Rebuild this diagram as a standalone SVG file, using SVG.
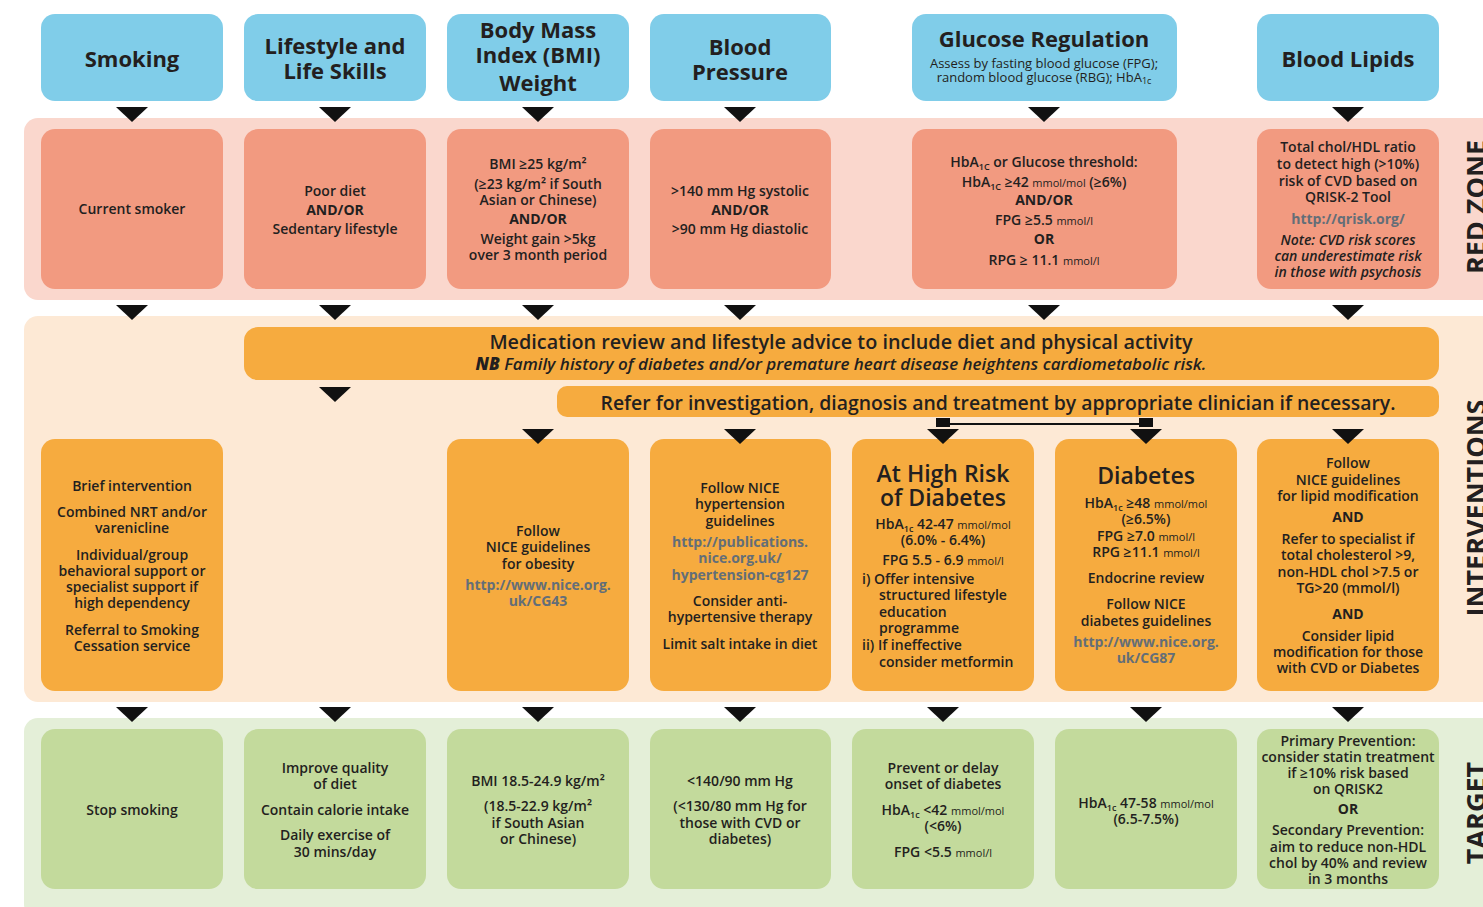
<svg xmlns="http://www.w3.org/2000/svg" width="1483" height="907" viewBox="0 0 1483 907">
<style>
text{font-family:"Open Sans","Noto Sans","Liberation Sans",sans-serif;fill:#231f20;text-anchor:middle}
.hd{font-size:22px;font-weight:700}
.h2{font-size:23px;font-weight:600}
.t{font-size:14px;font-weight:600}
.b{font-weight:700}
.u{fill:#636e78;font-weight:700}
.sm{font-size:11px;font-weight:400}
.sub{font-size:9px}
.i{font-style:italic}
.l{text-anchor:start}
.zone{font-size:27px;font-weight:700}
.blue{fill:#80cde9}
.red{fill:#f29a80}
.org{fill:#f6ab3f}
.grn{fill:#c3da9c}
.arr{fill:#111}
</style>
<rect width="1483" height="907" fill="#fff"/>
<!-- bands -->
<g id="bands">
<rect x="24" y="118" width="1480" height="182" rx="14" fill="#fad7cd"/>
<rect x="24" y="316" width="1480" height="386" rx="14" fill="#fde9d5"/>
<rect x="24" y="718" width="1480" height="200" rx="14" fill="#e4efd8"/>
<text class="zone" transform="translate(1486,207) rotate(-90)">RED ZONE</text>
<text class="zone" transform="translate(1486,508) rotate(-90)">INTERVENTIONS</text>
<text class="zone" transform="translate(1486,813) rotate(-90)">TARGET</text>
</g>
<!-- headers -->
<g id="h-smoking"><rect class="blue" x="41" y="14" width="182" height="87" rx="14"/><text class="hd" x="132" y="67">Smoking</text></g>
<g id="h-lifestyle"><rect class="blue" x="244" y="14" width="182" height="87" rx="14"/><text class="hd" x="335" y="54">Lifestyle and</text><text class="hd" x="335" y="79">Life Skills</text></g>
<g id="h-bmi"><rect class="blue" x="447" y="14" width="182" height="87" rx="14"/><text class="hd" x="538" y="38">Body Mass</text><text class="hd" x="538" y="63">Index (BMI)</text><text class="hd" x="538" y="91">Weight</text></g>
<g id="h-bp"><rect class="blue" x="650" y="14" width="181" height="87" rx="14"/><text class="hd" x="740" y="55">Blood</text><text class="hd" x="740" y="80">Pressure</text></g>
<g id="h-glucose"><rect class="blue" x="912" y="14" width="265" height="87" rx="14"/><text class="hd" x="1044" y="47">Glucose Regulation</text><text x="1044" y="68" style="font-size:13px">Assess by fasting blood glucose (FPG);</text><text x="1044" y="82" style="font-size:13px">random blood glucose (RBG); HbA<tspan class="sub" dy="2">1c</tspan></text></g>
<g id="h-lipids"><rect class="blue" x="1257" y="14" width="182" height="87" rx="14"/><text class="hd" x="1348" y="67">Blood Lipids</text></g>
<!-- red zone -->
<g id="r-smoking"><rect class="red" x="41" y="129" width="182" height="160" rx="14"/><text class="t" x="132" y="214">Current smoker</text></g>
<g id="r-lifestyle"><rect class="red" x="244" y="129" width="182" height="160" rx="14"/><text class="t" x="335" y="196">Poor diet</text><text class="t b" x="335" y="215">AND/OR</text><text class="t" x="335" y="234">Sedentary lifestyle</text></g>
<g id="r-bmi"><rect class="red" x="447" y="129" width="182" height="160" rx="14"/>
<text class="t" x="538" y="169">BMI ≥25 kg/m²</text><text class="t" x="538" y="189">(≥23 kg/m² if South</text><text class="t" x="538" y="205">Asian or Chinese)</text><text class="t b" x="538" y="224">AND/OR</text><text class="t" x="538" y="244">Weight gain &gt;5kg</text><text class="t" x="538" y="260">over 3 month period</text></g>
<g id="r-bp"><rect class="red" x="650" y="129" width="181" height="160" rx="14"/><text class="t" x="740" y="196">&gt;140 mm Hg systolic</text><text class="t b" x="740" y="215">AND/OR</text><text class="t" x="740" y="234">&gt;90 mm Hg diastolic</text></g>
<g id="r-glucose"><rect class="red" x="912" y="129" width="265" height="160" rx="14"/>
<text class="t" x="1044" y="167">HbA<tspan class="sub" dy="3">1C</tspan><tspan dy="-3"> or Glucose threshold:</tspan></text>
<text class="t" x="1044" y="187">HbA<tspan class="sub" dy="3">1C</tspan><tspan dy="-3"> ≥42 </tspan><tspan class="sm">mmol/mol</tspan> (≥6%)</text>
<text class="t b" x="1044" y="205">AND/OR</text>
<text class="t" x="1044" y="225">FPG ≥5.5 <tspan class="sm">mmol/l</tspan></text>
<text class="t b" x="1044" y="244">OR</text>
<text class="t" x="1044" y="265">RPG ≥ 11.1 <tspan class="sm">mmol/l</tspan></text></g>
<g id="r-lipids"><rect class="red" x="1257" y="129" width="182" height="160" rx="14"/>
<text class="t" x="1348" y="152">Total chol/HDL ratio</text><text class="t" x="1348" y="169">to detect high (&gt;10%)</text><text class="t" x="1348" y="186">risk of CVD based on</text><text class="t" x="1348" y="202">QRISK-2 Tool</text><text class="t u" x="1348" y="224">http://qrisk.org/</text><text class="t i" x="1348" y="245">Note: CVD risk scores</text><text class="t i" x="1348" y="261">can underestimate risk</text><text class="t i" x="1348" y="277">in those with psychosis</text></g>
<!-- bars -->
<g id="medication"><rect class="org" x="244" y="327" width="1195" height="53" rx="14"/><text x="841" y="349" style="font-size:19.8px;font-weight:600">Medication review and lifestyle advice to include diet and physical activity</text><text class="i" x="841" y="370" style="font-size:17px;font-weight:600"><tspan font-weight="800">NB</tspan> Family history of diabetes and/or premature heart disease heightens cardiometabolic risk.</text></g>
<g id="refer"><rect class="org" x="557" y="386" width="882" height="31" rx="10"/><text x="998" y="410" style="font-size:19.4px;font-weight:600">Refer for investigation, diagnosis and treatment by appropriate clinician if necessary.</text></g>
<!-- interventions -->
<g id="i-smoking"><rect class="org" x="41" y="439" width="182" height="252" rx="14"/>
<text class="t" x="132" y="491">Brief intervention</text><text class="t" x="132" y="517">Combined NRT and/or</text><text class="t" x="132" y="533">varenicline</text><text class="t" x="132" y="560">Individual/group</text><text class="t" x="132" y="576">behavioral support or</text><text class="t" x="132" y="592">specialist support if</text><text class="t" x="132" y="608">high dependency</text><text class="t" x="132" y="635">Referral to Smoking</text><text class="t" x="132" y="651">Cessation service</text></g>
<g id="i-bmi"><rect class="org" x="447" y="439" width="182" height="252" rx="14"/>
<text class="t" x="538" y="536">Follow</text><text class="t" x="538" y="552">NICE guidelines</text><text class="t" x="538" y="569">for obesity</text><text class="t u" x="538" y="590">http://www.nice.org.</text><text class="t u" x="538" y="606">uk/CG43</text></g>
<g id="i-bp"><rect class="org" x="650" y="439" width="181" height="252" rx="14"/>
<text class="t" x="740" y="493">Follow NICE</text><text class="t" x="740" y="509">hypertension</text><text class="t" x="740" y="526">guidelines</text><text class="t u" x="740" y="547">http://publications.</text><text class="t u" x="740" y="563">nice.org.uk/</text><text class="t u" x="740" y="580">hypertension-cg127</text><text class="t" x="740" y="606">Consider anti-</text><text class="t" x="740" y="622">hypertensive therapy</text><text class="t" x="740" y="649">Limit salt intake in diet</text></g>
<g id="i-highrisk"><rect class="org" x="852" y="439" width="182" height="252" rx="14"/>
<text class="h2" x="943" y="482">At High Risk</text><text class="h2" x="943" y="506">of Diabetes</text>
<text class="t" x="943" y="529">HbA<tspan class="sub" dy="3">1c</tspan><tspan dy="-3"> 42-47 </tspan><tspan class="sm">mmol/mol</tspan></text>
<text class="t" x="943" y="545">(6.0% - 6.4%)</text>
<text class="t" x="943" y="565">FPG 5.5 - 6.9 <tspan class="sm">mmol/l</tspan></text>
<text class="t l" x="862" y="584">i) Offer intensive</text><text class="t l" x="879" y="600">structured lifestyle</text><text class="t l" x="879" y="617">education</text><text class="t l" x="879" y="633">programme</text><text class="t l" x="862" y="650">ii) If ineffective</text><text class="t l" x="879" y="667">consider metformin</text></g>
<g id="i-diabetes"><rect class="org" x="1055" y="439" width="182" height="252" rx="14"/>
<text class="h2" x="1146" y="484">Diabetes</text>
<text class="t" x="1146" y="508">HbA<tspan class="sub" dy="3">1c</tspan><tspan dy="-3"> ≥48 </tspan><tspan class="sm">mmol/mol</tspan></text>
<text class="t" x="1146" y="524">(≥6.5%)</text>
<text class="t" x="1146" y="541">FPG ≥7.0 <tspan class="sm">mmol/l</tspan></text>
<text class="t" x="1146" y="557">RPG ≥11.1 <tspan class="sm">mmol/l</tspan></text>
<text class="t" x="1146" y="583">Endocrine review</text><text class="t" x="1146" y="609">Follow NICE</text><text class="t" x="1146" y="626">diabetes guidelines</text><text class="t u" x="1146" y="647">http://www.nice.org.</text><text class="t u" x="1146" y="663">uk/CG87</text></g>
<g id="i-lipids"><rect class="org" x="1257" y="439" width="182" height="252" rx="14"/>
<text class="t" x="1348" y="468">Follow</text><text class="t" x="1348" y="485">NICE guidelines</text><text class="t" x="1348" y="501">for lipid modification</text><text class="t b" x="1348" y="522">AND</text><text class="t" x="1348" y="544">Refer to specialist if</text><text class="t" x="1348" y="560">total cholesterol &gt;9,</text><text class="t" x="1348" y="577">non-HDL chol &gt;7.5 or</text><text class="t" x="1348" y="593">TG&gt;20 (mmol/l)</text><text class="t b" x="1348" y="619">AND</text><text class="t" x="1348" y="641">Consider lipid</text><text class="t" x="1348" y="657">modification for those</text><text class="t" x="1348" y="673">with CVD or Diabetes</text></g>
<!-- targets -->
<g id="t-smoking"><rect class="grn" x="41" y="729" width="182" height="160" rx="14"/><text class="t" x="132" y="815">Stop smoking</text></g>
<g id="t-lifestyle"><rect class="grn" x="244" y="729" width="182" height="160" rx="14"/><text class="t" x="335" y="773">Improve quality</text><text class="t" x="335" y="789">of diet</text><text class="t" x="335" y="815">Contain calorie intake</text><text class="t" x="335" y="840">Daily exercise of</text><text class="t" x="335" y="857">30 mins/day</text></g>
<g id="t-bmi"><rect class="grn" x="447" y="729" width="182" height="160" rx="14"/><text class="t" x="538" y="786">BMI 18.5-24.9 kg/m²</text><text class="t" x="538" y="811">(18.5-22.9 kg/m²</text><text class="t" x="538" y="828">if South Asian</text><text class="t" x="538" y="844">or Chinese)</text></g>
<g id="t-bp"><rect class="grn" x="650" y="729" width="181" height="160" rx="14"/><text class="t" x="740" y="786">&lt;140/90 mm Hg</text><text class="t" x="740" y="811">(&lt;130/80 mm Hg for</text><text class="t" x="740" y="828">those with CVD or</text><text class="t" x="740" y="844">diabetes)</text></g>
<g id="t-highrisk"><rect class="grn" x="852" y="729" width="182" height="160" rx="14"/><text class="t" x="943" y="773">Prevent or delay</text><text class="t" x="943" y="789">onset of diabetes</text><text class="t" x="943" y="815">HbA<tspan class="sub" dy="3">1c</tspan><tspan dy="-3"> &lt;42 </tspan><tspan class="sm">mmol/mol</tspan></text><text class="t" x="943" y="831">(&lt;6%)</text><text class="t" x="943" y="857">FPG &lt;5.5 <tspan class="sm">mmol/l</tspan></text></g>
<g id="t-diabetes"><rect class="grn" x="1055" y="729" width="182" height="160" rx="14"/><text class="t" x="1146" y="808">HbA<tspan class="sub" dy="3">1c</tspan><tspan dy="-3"> 47-58 </tspan><tspan class="sm">mmol/mol</tspan></text><text class="t" x="1146" y="824">(6.5-7.5%)</text></g>
<g id="t-lipids"><rect class="grn" x="1257" y="729" width="182" height="160" rx="14"/>
<text class="t" x="1348" y="746">Primary Prevention:</text><text class="t" x="1348" y="762">consider statin treatment</text><text class="t" x="1348" y="778">if ≥10% risk based</text><text class="t" x="1348" y="794">on QRISK2</text><text class="t b" x="1348" y="814">OR</text><text class="t" x="1348" y="835">Secondary Prevention:</text><text class="t" x="1348" y="852">aim to reduce non-HDL</text><text class="t" x="1348" y="868">chol by 40% and review</text><text class="t" x="1348" y="884">in 3 months</text></g>
<!-- connectors -->
<g id="connectors">
<g class="arr">
<polygon points="116,107 148,107 132,122"/><polygon points="319,107 351,107 335,122"/><polygon points="522,107 554,107 538,122"/><polygon points="724,107 756,107 740,122"/><polygon points="1028,107 1060,107 1044,122"/><polygon points="1332,107 1364,107 1348,122"/>
<polygon points="116,305 148,305 132,320"/><polygon points="319,305 351,305 335,320"/><polygon points="522,305 554,305 538,320"/><polygon points="724,305 756,305 740,320"/><polygon points="1028,305 1060,305 1044,320"/><polygon points="1332,305 1364,305 1348,320"/>
<polygon points="319,387 351,387 335,402"/>
<polygon points="522,429 554,429 538,444"/><polygon points="724,429 756,429 740,444"/><polygon points="927,429 959,429 943,444"/><polygon points="1130,429 1162,429 1146,444"/><polygon points="1332,429 1364,429 1348,444"/>
<rect x="936" y="418" width="14" height="9"/><rect x="1139" y="418" width="14" height="9"/>
<polygon points="116,707 148,707 132,722"/><polygon points="319,707 351,707 335,722"/><polygon points="522,707 554,707 538,722"/><polygon points="724,707 756,707 740,722"/><polygon points="927,707 959,707 943,722"/><polygon points="1130,707 1162,707 1146,722"/><polygon points="1332,707 1364,707 1348,722"/>
</g>
<line x1="950" y1="424" x2="1139" y2="424" stroke="#111" stroke-width="1.8"/>
</g>
</svg>
